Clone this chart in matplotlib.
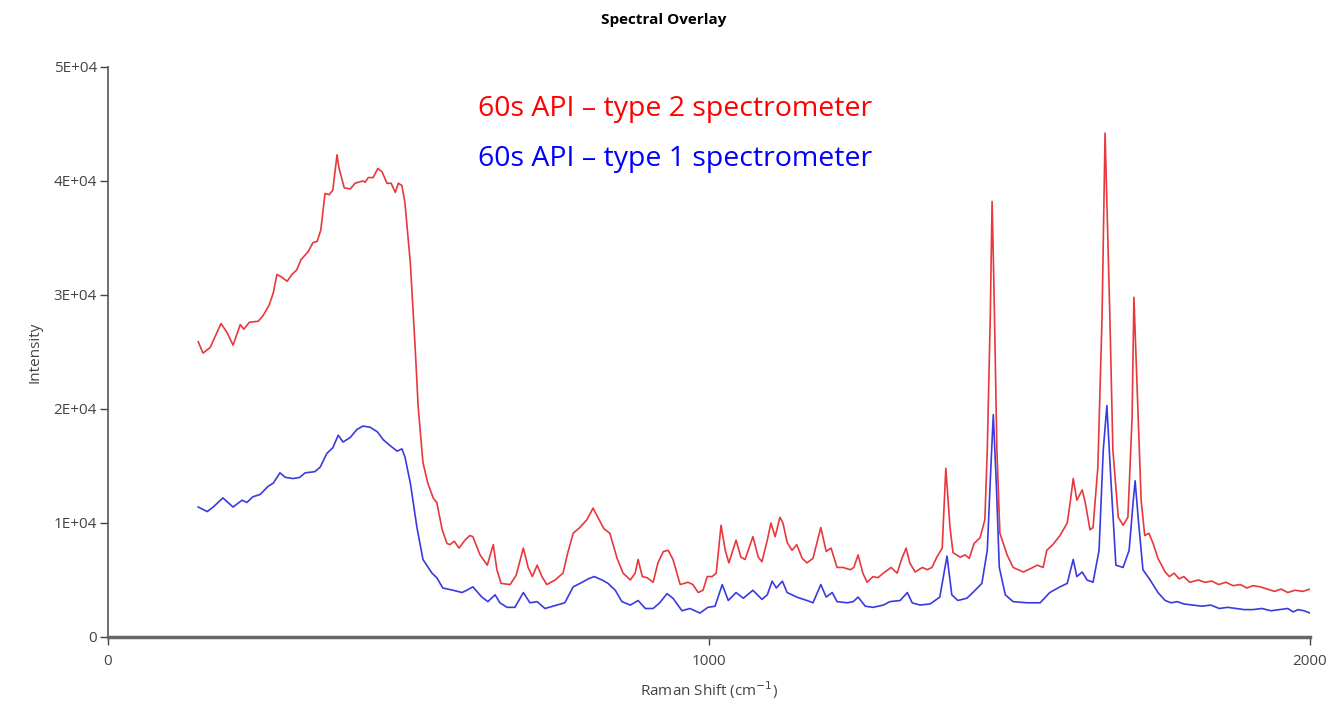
import matplotlib
matplotlib.use("Agg")
import matplotlib.pyplot as plt
from matplotlib.ticker import FixedLocator, FuncFormatter

# Raman shift (cm-1) and intensity
red_shift = [150, 158, 170, 188, 198, 208, 220, 226, 235, 250, 258, 268, 275, 281,
             288, 298, 306, 314, 321, 333, 341, 348, 354, 361, 368, 374, 381, 384,
             393, 403, 411, 424, 428, 433, 441, 449, 456, 464, 471, 478, 483, 489,
             494, 503, 511, 516, 524, 532, 541, 547, 556, 564, 569, 576, 584, 594,
             602, 607, 619, 631, 641, 647, 654, 669, 679, 691, 699, 706, 714, 722,
             730, 744, 757, 765, 774, 785, 797, 807, 815, 825, 835, 847, 857, 869,
             877, 882, 889, 897, 907, 915, 924, 932, 940, 952, 965, 973, 982, 990,
             997, 1005, 1012, 1020, 1027, 1033, 1045, 1053, 1060, 1073, 1082, 1088,
             1097, 1103, 1110, 1118, 1123, 1130, 1138, 1146, 1155, 1163, 1173, 1186,
             1195, 1203, 1213, 1223, 1235, 1241, 1248, 1256, 1263, 1273, 1281, 1290,
             1303, 1313, 1321, 1328, 1334, 1343, 1355, 1363, 1371, 1379, 1388, 1394,
             1401, 1406, 1418, 1426, 1433, 1441, 1451, 1459, 1463, 1468, 1471, 1474,
             1479, 1484, 1496, 1506, 1523, 1539, 1546, 1556, 1562, 1572, 1584, 1596,
             1601, 1606, 1612, 1621, 1626, 1634, 1639, 1647, 1654, 1659, 1667, 1672,
             1681, 1689, 1697, 1704, 1707, 1712, 1719, 1725, 1732, 1739, 1747, 1759,
             1766, 1774, 1782, 1790, 1800, 1814, 1825, 1837, 1848, 1860, 1872, 1884,
             1895, 1905, 1917, 1929, 1941, 1952, 1963, 1975, 1988, 2000]
red_intensity = [25900, 24900, 25400, 27500, 26700, 25600, 27400, 27000, 27600, 27700,
                 28200, 29100, 30200, 31800, 31600, 31200, 31800, 32200, 33100, 33800,
                 34600, 34700, 35700, 38900, 38800, 39200, 42300, 41200, 39400, 39300,
                 39800, 40000, 39900, 40300, 40300, 41100, 40800, 39800, 39800, 39000,
                 39800, 39600, 38100, 32800, 25400, 20200, 15300, 13500, 12200, 11800,
                 9400, 8200, 8100, 8400, 7800, 8500, 8900, 8800, 7200, 6300,
                 8100, 5900, 4700, 4600, 5400, 7800, 6100, 5300, 6300, 5300,
                 4600, 5000, 5600, 7400, 9100, 9600, 10300, 11300, 10500, 9500,
                 9100, 6900, 5600, 5000, 5600, 6800, 5300, 5200, 4800, 6500,
                 7500, 7600, 6800, 4600, 4800, 4600, 3900, 4100, 5300, 5300,
                 5600, 9800, 7600, 6500, 8500, 7000, 6800, 8800, 7000, 6600,
                 8500, 10000, 8800, 10500, 10000, 8300, 7600, 8100, 6900, 6500,
                 6900, 9600, 7500, 7800, 6100, 6100, 5900, 6100, 7200, 5600,
                 4800, 5300, 5200, 5600, 6100, 5600, 6900, 7800, 6500, 5700,
                 6100, 5900, 6100, 7000, 7800, 14800, 9600, 7400, 7000, 7200,
                 6900, 8200, 8700, 10300, 16400, 28100, 38200, 31000, 16400, 9100,
                 7200, 6100, 5700, 6100, 6300, 6100, 7600, 8100, 8900, 10000,
                 11800, 13900, 12000, 12900, 11800, 9400, 9600, 14900, 28100, 44200,
                 28100, 16400, 10500, 9800, 10500, 19300, 29800, 22300, 12000, 8900,
                 9100, 8200, 6900, 5700, 5300, 5600, 5100, 5300, 4800, 5000,
                 4800, 4900, 4600, 4800, 4500, 4600, 4300, 4500, 4400, 4200,
                 4000, 4200, 3900, 4100, 4000, 4200]

blue_shift = [150, 165, 175, 191, 208, 223, 231, 241, 253, 266, 275, 286, 295, 308,
              319, 328, 344, 353, 364, 374, 383, 391, 403, 414, 424, 436, 448, 458,
              469, 481, 489, 494, 503, 514, 524, 539, 547, 557, 574, 589, 597, 607,
              622, 632, 644, 652, 664, 677, 691, 702, 714, 727, 747, 760, 774, 789,
              799, 809, 822, 832, 844, 855, 869, 882, 894, 907, 918, 930, 940, 955,
              968, 985, 998, 1010, 1022, 1032, 1045, 1057, 1073, 1088, 1097, 1105,
              1112, 1122, 1130, 1146, 1163, 1173, 1186, 1195, 1205, 1213, 1230, 1240,
              1248, 1260, 1273, 1290, 1301, 1318, 1330, 1338, 1351, 1368, 1384, 1396,
              1404, 1414, 1429, 1439, 1454, 1463, 1469, 1473, 1478, 1483, 1493, 1506,
              1529, 1551, 1567, 1584, 1596, 1606, 1612, 1621, 1629, 1639, 1649, 1656,
              1662, 1669, 1677, 1689, 1699, 1706, 1709, 1714, 1722, 1734, 1747, 1759,
              1769, 1779, 1790, 1805, 1820, 1835, 1849, 1863, 1877, 1891, 1905, 1920,
              1935, 1949, 1963, 1972, 1980, 1990, 2000]
blue_intensity = [11400, 11000, 11400, 12200, 11400, 12000, 11800, 12300, 12500, 13200,
                  13500, 14400, 14000, 13900, 14000, 14400, 14500, 14900, 16100, 16600,
                  17700, 17100, 17500, 18200, 18500, 18400, 18000, 17300, 16800, 16300,
                  16500, 15800, 13500, 9600, 6800, 5600, 5200, 4300, 4100, 3900,
                  4100, 4400, 3500, 3100, 3700, 3000, 2600, 2600, 3900, 3000,
                  3100, 2500, 2800, 3000, 4400, 4800, 5100, 5300, 5000, 4700,
                  4100, 3100, 2800, 3200, 2500, 2500, 3000, 3800, 3400, 2300,
                  2500, 2100, 2600, 2700, 4600, 3200, 3900, 3400, 4100, 3300,
                  3700, 4900, 4300, 4900, 3900, 3500, 3200, 3000, 4600, 3500,
                  3900, 3100, 3000, 3100, 3500, 2700, 2600, 2800, 3100, 3200,
                  3900, 3000, 2800, 2900, 3500, 7100, 3700, 3200, 3400, 3900,
                  4700, 7600, 14900, 19500, 13500, 6100, 3700, 3100, 3000, 3000,
                  3900, 4400, 4700, 6800, 5300, 5700, 5000, 4800, 7600, 16400,
                  20300, 13500, 6300, 6100, 7600, 12000, 13700, 10500, 5900, 5000,
                  3900, 3200, 3000, 3100, 2900, 2800, 2700, 2800, 2500, 2600,
                  2500, 2400, 2400, 2500, 2300, 2400, 2500, 2200, 2400, 2300,
                  2100]

y_ticks = [0, 10000, 20000, 30000, 40000, 50000]
x_ticks = [0, 1000, 2000]
legend_labels = ["60s API \u2013 type 2 spectrometer", "60s API \u2013 type 1 spectrometer"]

plt.rcParams['font.family'] = ['Open Sans', 'DejaVu Sans']

fig = plt.figure(figsize=(13.44, 7.08), dpi=100)
ax = fig.add_axes([0.0804, 0.1003, 0.8943, 0.8051])

ax.plot(red_shift, red_intensity, color='#e8383d', linewidth=1.2)
ax.plot(blue_shift, blue_intensity, color='#3a3ae0', linewidth=1.2)

ax.set_xlim(0, 2000)
ax.set_ylim(0, 50000)
ax.xaxis.set_major_locator(FixedLocator(x_ticks))
ax.yaxis.set_major_locator(FixedLocator(y_ticks))


def sci_label(v, pos):
    if v == 0:
        return "0"
    return f"{v / 10000:.0f}E+04"


ax.yaxis.set_major_formatter(FuncFormatter(sci_label))
ax.tick_params(axis='both', colors='#444444', labelsize=11, length=6, width=1)
ax.tick_params(axis='x', pad=6)
ax.tick_params(axis='y', pad=2)

for side in ('top', 'right'):
    ax.spines[side].set_visible(False)
ax.spines['left'].set_color('#555555')
ax.spines['left'].set_linewidth(1.2)
ax.spines['bottom'].set_color('#666666')
ax.spines['bottom'].set_linewidth(2.5)

fig.text(0.494, 0.972, "Spectral Overlay", fontsize=11, fontweight='bold',
         ha='center', va='center')
ax.set_ylabel("Intensity", fontsize=11, color='#444444', labelpad=8)
ax.set_xlabel("Raman Shift (cm$^{-1}$)", fontsize=11, color='#444444', labelpad=8)

ax.text(0.308, 0.926, legend_labels[0], transform=ax.transAxes, color='#ff0000',
        fontsize=20.5, va='center', ha='left')
ax.text(0.308, 0.838, legend_labels[1], transform=ax.transAxes, color='#0000ff',
        fontsize=20.5, va='center', ha='left')

fig.savefig("out.png", dpi=100)
